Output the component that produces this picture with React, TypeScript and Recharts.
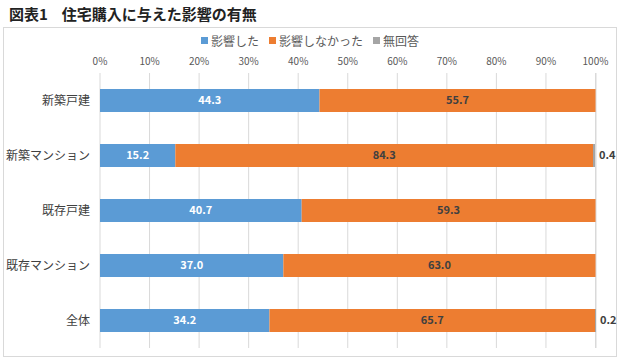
import { BarChart, Bar, XAxis, YAxis, CartesianGrid, LabelList } from 'recharts'

const categories = ['新築戸建', '新築マンション', '既存戸建', '既存マンション', '全体']
const affected = [44.3, 15.2, 40.7, 37.0, 34.2]
const notAffected = [55.7, 84.3, 59.3, 63.0, 65.7]
const noAnswer: (number | null)[] = [null, 0.4, null, null, 0.2]
const xTicks = [0, 10, 20, 30, 40, 50, 60, 70, 80, 90, 100]

const series = [
  { key: 'affected', name: '影響した', color: '#5B9BD5' },
  { key: 'notAffected', name: '影響しなかった', color: '#ED7D31' },
  { key: 'noAnswer', name: '無回答', color: '#A5A5A5' },
]

const data = categories.map((name, i) => ({
  name,
  affected: affected[i],
  notAffected: notAffected[i],
  noAnswer: noAnswer[i],
}))

const FONT = '"Noto Sans CJK JP", "Noto Sans", sans-serif'
const fmt1 = (v: unknown) => (v == null ? '' : Number(v).toFixed(1))

export default function App() {
  return (
    <div style={{ position: 'relative', width: 621, height: 363, background: '#fff', fontFamily: FONT }}>
      <style>{'body{margin:0}'}</style>
      <div style={{ position: 'absolute', left: 9, top: 3, fontSize: 15, fontWeight: 700, color: '#222', whiteSpace: 'nowrap' }}>
        図表1<span style={{ marginLeft: 14 }}>住宅購入に与えた影響の有無</span>
      </div>
      <div style={{ position: 'absolute', left: 3, top: 27, width: 612, height: 328, border: '1px solid #D9D9D9' }} />
      <div
        style={{
          position: 'absolute', top: 32, left: 3, width: 614, display: 'flex', justifyContent: 'center',
          gap: 10, fontSize: 12, color: '#595959',
        }}
      >
        {series.map((s) => (
          <span key={s.key} style={{ display: 'flex', alignItems: 'center' }}>
            <span style={{ width: 7, height: 7, background: s.color, marginRight: 3, display: 'inline-block' }} />
            {s.name}
          </span>
        ))}
      </div>
      <div style={{ position: 'absolute', left: 0, top: 0 }}>
        <BarChart
          width={621}
          height={363}
          data={data}
          layout="vertical"
          barCategoryGap={16}
          margin={{ top: 53, right: 25, bottom: 15, left: 10 }}
        >
          <CartesianGrid horizontal={false} stroke="#D9D9D9" />
          <XAxis
            type="number"
            orientation="top"
            domain={[0, 100]}
            ticks={xTicks}
            height={20}
            tickFormatter={(v) => `${v}%`}
            tick={{ fill: '#595959', fontSize: 10, fontFamily: FONT }}
            axisLine={false}
            tickLine={false}
            tickSize={0}
            tickMargin={8}
          />
          <YAxis
            type="category"
            dataKey="name"
            width={90}
            tick={{ fill: '#404040', fontSize: 12, fontFamily: FONT }}
            axisLine={false}
            tickLine={false}
            tickSize={0}
            tickMargin={10}
          />
          <Bar dataKey="affected" stackId="a" fill="#5B9BD5" isAnimationActive={false}>
            <LabelList dataKey="affected" position="center" formatter={fmt1} fill="#fff" fontSize={11} fontWeight={600} fontFamily={FONT} />
          </Bar>
          <Bar dataKey="notAffected" stackId="a" fill="#ED7D31" isAnimationActive={false}>
            <LabelList dataKey="notAffected" position="center" formatter={fmt1} fill="#404040" fontSize={11} fontWeight={600} fontFamily={FONT} />
          </Bar>
          <Bar dataKey="noAnswer" stackId="a" fill="#A5A5A5" isAnimationActive={false}>
            <LabelList dataKey="noAnswer" position="right" offset={4} formatter={fmt1} fill="#404040" fontSize={11} fontWeight={600} fontFamily={FONT} />
          </Bar>
        </BarChart>
      </div>
    </div>
  )
}
